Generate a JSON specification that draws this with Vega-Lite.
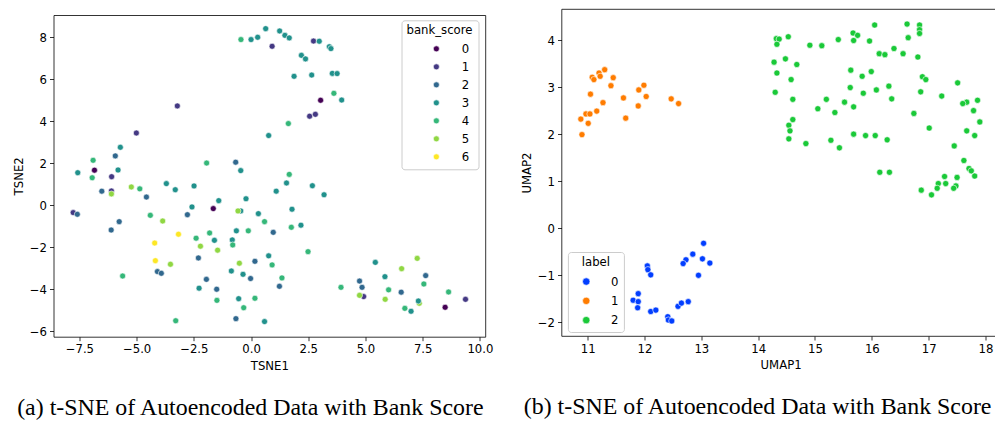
{
  "$schema": "https://vega.github.io/schema/vega-lite/v6.json",
  "padding": {"left": 12.5, "top": 8, "right": 0, "bottom": 0},
  "spacing": 27,
  "background": "white",
  "resolve": {"scale": {"color": "independent"}, "legend": {"color": "independent"}},
  "config": {
    "font": "DejaVu Sans",
    "view": {"stroke": "#000000", "strokeWidth": 0.8},
    "axis": {
      "domain": false, "grid": false, "domainColor": "#000000", "domainWidth": 0.8,
      "tickColor": "#000000", "tickSize": 4, "tickWidth": 0.8,
      "labelFont": "DejaVu Sans", "labelFontSize": 11.7, "labelColor": "#000000", "labelPadding": 3,
      "titleFont": "DejaVu Sans", "titleFontSize": 11.7, "titleFontWeight": "normal", "titleColor": "#000000", "titlePadding": 5
    },
    "legend": {
      "labelFont": "DejaVu Sans", "labelFontSize": 11.7, "labelColor": "#000000",
      "titleFont": "DejaVu Sans", "titleFontSize": 11.7, "titleFontWeight": "normal", "titleColor": "#000000",
      "titleAnchor": "middle", "titleAlign": "center",
      "padding": 5, "strokeColor": "#cccccc", "fillColor": "rgba(255,255,255,0.8)", "cornerRadius": 3,
      "symbolType": "circle", "symbolStrokeColor": "white", "symbolStrokeWidth": 0.6
    },
    "title": {"font": "Liberation Serif", "fontSize": 23.9, "fontWeight": "normal", "color": "#000000", "orient": "bottom", "anchor": "middle"}
  },
  "datasets": {
    "tsne": [
      {"x": -0.44, "y": 7.90, "bank_score": 4}, {"x": 0.0, "y": 7.90, "bank_score": 3}, {"x": 0.29, "y": 8.01, "bank_score": 3},
      {"x": 0.64, "y": 8.42, "bank_score": 3}, {"x": 0.92, "y": 7.58, "bank_score": 1}, {"x": 1.25, "y": 8.31, "bank_score": 3},
      {"x": 1.48, "y": 8.10, "bank_score": 3}, {"x": 1.67, "y": 7.98, "bank_score": 3}, {"x": 2.73, "y": 7.83, "bank_score": 1},
      {"x": 2.98, "y": 7.82, "bank_score": 3}, {"x": 3.42, "y": 7.56, "bank_score": 3}, {"x": 3.49, "y": 7.47, "bank_score": 3},
      {"x": 2.20, "y": 7.15, "bank_score": 3}, {"x": 2.38, "y": 6.98, "bank_score": 3}, {"x": 1.88, "y": 6.15, "bank_score": 3},
      {"x": 2.65, "y": 6.21, "bank_score": 3}, {"x": 3.55, "y": 6.29, "bank_score": 3}, {"x": 3.76, "y": 6.28, "bank_score": 3},
      {"x": 3.62, "y": 5.34, "bank_score": 4}, {"x": 3.96, "y": 5.02, "bank_score": 3}, {"x": 3.04, "y": 5.01, "bank_score": 0},
      {"x": 2.56, "y": 4.25, "bank_score": 1}, {"x": 2.81, "y": 4.34, "bank_score": 1}, {"x": 1.63, "y": 3.90, "bank_score": 4},
      {"x": 0.77, "y": 3.33, "bank_score": 3}, {"x": -0.67, "y": 2.06, "bank_score": 2}, {"x": -0.45, "y": 1.66, "bank_score": 3},
      {"x": 1.67, "y": 1.48, "bank_score": 4}, {"x": 1.55, "y": 1.07, "bank_score": 3}, {"x": 1.10, "y": 0.68, "bank_score": 3},
      {"x": 2.68, "y": 0.94, "bank_score": 3}, {"x": 3.19, "y": 0.51, "bank_score": 3}, {"x": -3.22, "y": 4.74, "bank_score": 1},
      {"x": -5.01, "y": 3.45, "bank_score": 1}, {"x": -5.71, "y": 2.77, "bank_score": 3}, {"x": -5.93, "y": 2.36, "bank_score": 2},
      {"x": -5.81, "y": 1.69, "bank_score": 3}, {"x": -6.09, "y": 1.37, "bank_score": 1}, {"x": -6.90, "y": 2.15, "bank_score": 4},
      {"x": -6.84, "y": 1.68, "bank_score": 0}, {"x": -6.94, "y": 1.32, "bank_score": 4}, {"x": -7.57, "y": 1.56, "bank_score": 3},
      {"x": -1.94, "y": 2.02, "bank_score": 4}, {"x": -6.52, "y": 0.68, "bank_score": 2}, {"x": -6.10, "y": 0.69, "bank_score": 1},
      {"x": -6.10, "y": 0.55, "bank_score": 5}, {"x": -5.23, "y": 0.88, "bank_score": 5}, {"x": -4.86, "y": 0.79, "bank_score": 4},
      {"x": -4.57, "y": 0.40, "bank_score": 2}, {"x": -3.70, "y": 1.04, "bank_score": 3}, {"x": -3.31, "y": 0.75, "bank_score": 3},
      {"x": -2.49, "y": 0.93, "bank_score": 3}, {"x": -2.58, "y": -0.07, "bank_score": 3}, {"x": -2.78, "y": -0.44, "bank_score": 2},
      {"x": -1.41, "y": 0.23, "bank_score": 3}, {"x": -1.65, "y": -0.15, "bank_score": 0}, {"x": -0.22, "y": 0.32, "bank_score": 3},
      {"x": -0.45, "y": -0.26, "bank_score": 3}, {"x": -0.57, "y": -0.26, "bank_score": 5}, {"x": -0.12, "y": -1.21, "bank_score": 4},
      {"x": -7.77, "y": -0.34, "bank_score": 1}, {"x": -7.59, "y": -0.42, "bank_score": 2}, {"x": -5.76, "y": -0.77, "bank_score": 2},
      {"x": -6.11, "y": -1.17, "bank_score": 2}, {"x": -4.40, "y": -0.47, "bank_score": 4}, {"x": -3.86, "y": -0.74, "bank_score": 5},
      {"x": -3.17, "y": -1.37, "bank_score": 6}, {"x": -4.21, "y": -1.79, "bank_score": 6}, {"x": -4.18, "y": -2.63, "bank_score": 6},
      {"x": -3.52, "y": -2.80, "bank_score": 5}, {"x": -4.09, "y": -3.15, "bank_score": 2}, {"x": -3.92, "y": -3.23, "bank_score": 2},
      {"x": -5.61, "y": -3.36, "bank_score": 4}, {"x": -3.29, "y": -5.49, "bank_score": 4}, {"x": -2.40, "y": -1.56, "bank_score": 4},
      {"x": -2.21, "y": -1.94, "bank_score": 5}, {"x": -1.81, "y": -1.31, "bank_score": 4}, {"x": -1.60, "y": -1.66, "bank_score": 3},
      {"x": -1.46, "y": -2.13, "bank_score": 5}, {"x": -2.30, "y": -2.50, "bank_score": 2}, {"x": -1.95, "y": -3.52, "bank_score": 2},
      {"x": -2.27, "y": -3.94, "bank_score": 3}, {"x": -1.50, "y": -3.99, "bank_score": 2}, {"x": -1.49, "y": -4.52, "bank_score": 4},
      {"x": -0.64, "y": -1.21, "bank_score": 3}, {"x": -0.82, "y": -1.64, "bank_score": 3}, {"x": -0.80, "y": -1.88, "bank_score": 4},
      {"x": -0.51, "y": -2.75, "bank_score": 5}, {"x": -0.35, "y": -3.28, "bank_score": 3}, {"x": -0.86, "y": -3.12, "bank_score": 3},
      {"x": -0.54, "y": -4.44, "bank_score": 3}, {"x": -0.32, "y": -4.87, "bank_score": 4}, {"x": -0.66, "y": -5.39, "bank_score": 2},
      {"x": 0.32, "y": -0.39, "bank_score": 3}, {"x": 0.59, "y": -0.77, "bank_score": 4}, {"x": 1.79, "y": -0.18, "bank_score": 3},
      {"x": 1.76, "y": -1.04, "bank_score": 4}, {"x": 2.18, "y": -0.94, "bank_score": 3}, {"x": 0.97, "y": -1.28, "bank_score": 2},
      {"x": 2.49, "y": -2.20, "bank_score": 4}, {"x": 0.17, "y": -2.66, "bank_score": 2}, {"x": 0.77, "y": -2.40, "bank_score": 3},
      {"x": 0.92, "y": -2.83, "bank_score": 4}, {"x": -0.02, "y": -3.48, "bank_score": 2}, {"x": 1.35, "y": -3.45, "bank_score": 4},
      {"x": 1.24, "y": -3.85, "bank_score": 2}, {"x": 0.17, "y": -4.42, "bank_score": 4}, {"x": 0.59, "y": -5.53, "bank_score": 3},
      {"x": 3.93, "y": -3.90, "bank_score": 4}, {"x": 4.74, "y": -3.60, "bank_score": 2}, {"x": 4.85, "y": -3.90, "bank_score": 2},
      {"x": 4.92, "y": -4.34, "bank_score": 1}, {"x": 4.74, "y": -4.28, "bank_score": 5}, {"x": 5.43, "y": -2.71, "bank_score": 3},
      {"x": 5.85, "y": -3.39, "bank_score": 3}, {"x": 6.01, "y": -4.02, "bank_score": 4}, {"x": 5.86, "y": -4.47, "bank_score": 5},
      {"x": 6.58, "y": -3.01, "bank_score": 5}, {"x": 7.26, "y": -2.52, "bank_score": 5}, {"x": 7.63, "y": -3.34, "bank_score": 2},
      {"x": 7.55, "y": -3.74, "bank_score": 4}, {"x": 6.56, "y": -4.13, "bank_score": 2}, {"x": 6.72, "y": -4.90, "bank_score": 4},
      {"x": 6.99, "y": -5.04, "bank_score": 3}, {"x": 7.35, "y": -4.66, "bank_score": 5}, {"x": 7.31, "y": -4.55, "bank_score": 3},
      {"x": 8.48, "y": -4.85, "bank_score": 0}, {"x": 8.63, "y": -4.12, "bank_score": 4}, {"x": 9.37, "y": -4.47, "bank_score": 1}
    ],
    "umap": [
      {"x": 10.90, "y": 1.99, "label": 1}, {"x": 10.88, "y": 2.32, "label": 1}, {"x": 10.97, "y": 2.43, "label": 1},
      {"x": 11.04, "y": 2.43, "label": 1}, {"x": 11.01, "y": 2.23, "label": 1}, {"x": 11.16, "y": 2.49, "label": 1},
      {"x": 11.05, "y": 2.85, "label": 1}, {"x": 11.08, "y": 3.21, "label": 1}, {"x": 11.11, "y": 3.16, "label": 1},
      {"x": 11.20, "y": 3.30, "label": 1}, {"x": 11.22, "y": 3.23, "label": 1}, {"x": 11.30, "y": 3.37, "label": 1},
      {"x": 11.45, "y": 3.20, "label": 1}, {"x": 11.41, "y": 3.03, "label": 1}, {"x": 11.27, "y": 2.67, "label": 1},
      {"x": 11.63, "y": 2.77, "label": 1}, {"x": 11.67, "y": 2.34, "label": 1}, {"x": 11.90, "y": 2.94, "label": 1},
      {"x": 11.99, "y": 3.04, "label": 1}, {"x": 12.03, "y": 2.80, "label": 1}, {"x": 11.89, "y": 2.60, "label": 1},
      {"x": 12.47, "y": 2.75, "label": 1}, {"x": 12.60, "y": 2.65, "label": 1},
      {"x": 13.04, "y": -0.32, "label": 0}, {"x": 13.02, "y": -0.65, "label": 0}, {"x": 13.15, "y": -0.74, "label": 0},
      {"x": 12.85, "y": -0.55, "label": 0}, {"x": 12.73, "y": -0.67, "label": 0}, {"x": 12.68, "y": -0.75, "label": 0},
      {"x": 12.95, "y": -1.00, "label": 0}, {"x": 12.05, "y": -0.80, "label": 0}, {"x": 12.06, "y": -0.88, "label": 0},
      {"x": 12.11, "y": -0.99, "label": 0}, {"x": 11.89, "y": -1.39, "label": 0}, {"x": 11.80, "y": -1.53, "label": 0},
      {"x": 11.89, "y": -1.56, "label": 0}, {"x": 11.88, "y": -1.69, "label": 0}, {"x": 12.11, "y": -1.77, "label": 0},
      {"x": 12.20, "y": -1.74, "label": 0}, {"x": 12.41, "y": -1.88, "label": 0}, {"x": 12.42, "y": -1.95, "label": 0},
      {"x": 12.48, "y": -1.97, "label": 0}, {"x": 12.59, "y": -1.66, "label": 0}, {"x": 12.65, "y": -1.59, "label": 0},
      {"x": 12.77, "y": -1.56, "label": 0},
      {"x": 14.32, "y": 4.03, "label": 2}, {"x": 14.37, "y": 4.02, "label": 2}, {"x": 14.33, "y": 3.91, "label": 2},
      {"x": 14.53, "y": 4.07, "label": 2}, {"x": 14.28, "y": 3.53, "label": 2}, {"x": 14.48, "y": 3.60, "label": 2},
      {"x": 14.68, "y": 3.48, "label": 2}, {"x": 14.33, "y": 3.30, "label": 2}, {"x": 14.58, "y": 3.16, "label": 2},
      {"x": 14.30, "y": 2.89, "label": 2}, {"x": 14.61, "y": 2.74, "label": 2}, {"x": 14.61, "y": 2.31, "label": 2},
      {"x": 14.54, "y": 2.19, "label": 2}, {"x": 14.56, "y": 2.07, "label": 2}, {"x": 14.54, "y": 1.90, "label": 2},
      {"x": 14.84, "y": 1.80, "label": 2}, {"x": 14.91, "y": 3.89, "label": 2}, {"x": 15.12, "y": 3.88, "label": 2},
      {"x": 15.41, "y": 4.01, "label": 2}, {"x": 15.67, "y": 4.15, "label": 2}, {"x": 15.75, "y": 4.10, "label": 2},
      {"x": 15.68, "y": 3.99, "label": 2}, {"x": 16.05, "y": 4.32, "label": 2}, {"x": 15.96, "y": 3.98, "label": 2},
      {"x": 16.62, "y": 4.34, "label": 2}, {"x": 16.84, "y": 4.32, "label": 2}, {"x": 16.84, "y": 4.22, "label": 2},
      {"x": 16.84, "y": 4.14, "label": 2}, {"x": 16.64, "y": 4.05, "label": 2}, {"x": 16.13, "y": 3.71, "label": 2},
      {"x": 16.23, "y": 3.69, "label": 2}, {"x": 16.39, "y": 3.82, "label": 2}, {"x": 16.55, "y": 3.71, "label": 2},
      {"x": 16.81, "y": 3.64, "label": 2}, {"x": 15.63, "y": 3.36, "label": 2}, {"x": 15.83, "y": 3.23, "label": 2},
      {"x": 15.99, "y": 3.33, "label": 2}, {"x": 15.62, "y": 2.99, "label": 2}, {"x": 15.85, "y": 2.87, "label": 2},
      {"x": 16.08, "y": 2.94, "label": 2}, {"x": 16.30, "y": 3.02, "label": 2}, {"x": 16.35, "y": 2.75, "label": 2},
      {"x": 15.20, "y": 2.74, "label": 2}, {"x": 15.05, "y": 2.54, "label": 2}, {"x": 15.35, "y": 2.46, "label": 2},
      {"x": 15.52, "y": 2.68, "label": 2}, {"x": 15.68, "y": 2.58, "label": 2}, {"x": 16.89, "y": 3.22, "label": 2},
      {"x": 16.95, "y": 3.16, "label": 2}, {"x": 16.86, "y": 2.90, "label": 2}, {"x": 16.74, "y": 2.44, "label": 2},
      {"x": 17.23, "y": 2.81, "label": 2}, {"x": 17.51, "y": 3.09, "label": 2}, {"x": 17.01, "y": 2.13, "label": 2},
      {"x": 17.67, "y": 2.68, "label": 2}, {"x": 17.60, "y": 2.65, "label": 2}, {"x": 17.86, "y": 2.72, "label": 2},
      {"x": 17.79, "y": 2.50, "label": 2}, {"x": 17.90, "y": 2.26, "label": 2}, {"x": 17.67, "y": 2.07, "label": 2},
      {"x": 17.81, "y": 1.97, "label": 2}, {"x": 17.45, "y": 1.75, "label": 2}, {"x": 17.62, "y": 1.44, "label": 2},
      {"x": 17.71, "y": 1.27, "label": 2}, {"x": 17.75, "y": 1.22, "label": 2}, {"x": 17.81, "y": 1.11, "label": 2},
      {"x": 15.68, "y": 2.00, "label": 2}, {"x": 15.89, "y": 1.97, "label": 2}, {"x": 16.06, "y": 1.97, "label": 2},
      {"x": 16.27, "y": 1.88, "label": 2}, {"x": 15.28, "y": 1.87, "label": 2}, {"x": 15.43, "y": 1.71, "label": 2},
      {"x": 16.14, "y": 1.19, "label": 2}, {"x": 16.31, "y": 1.19, "label": 2}, {"x": 17.28, "y": 1.10, "label": 2},
      {"x": 17.50, "y": 1.08, "label": 2}, {"x": 17.17, "y": 0.95, "label": 2}, {"x": 17.30, "y": 0.95, "label": 2},
      {"x": 17.48, "y": 0.90, "label": 2}, {"x": 17.44, "y": 0.85, "label": 2}, {"x": 17.15, "y": 0.85, "label": 2},
      {"x": 16.87, "y": 0.81, "label": 2}, {"x": 17.05, "y": 0.71, "label": 2}
    ]
  },
  "hconcat": [
    {
      "width": 431.7,
      "height": 327.7,
      "view": {"stroke": null},
      "data": {"name": "tsne"},
      "title": {"text": "(a) t-SNE of Autoencoded Data with Bank Score", "dx": -19, "offset": 24},
      "layer": [
        {
          "mark": {"type": "point", "filled": true, "shape": "circle", "size": 36, "opacity": 1, "stroke": "white", "strokeWidth": 0.6},
          "encoding": {
            "x": {"field": "x", "type": "quantitative", "scale": {"domain": [-8.63, 10.23], "nice": false, "zero": false},
                  "axis": {"title": "TSNE1", "values": [-7.5, -5, -2.5, 0, 2.5, 5, 7.5, 10], "format": ".1f", "domain": true}},
            "y": {"field": "y", "type": "quantitative", "scale": {"domain": [-6.25, 9.07], "nice": false, "zero": false, "range": [327.7, 6]},
                  "axis": {"title": "TSNE2", "values": [-6, -4, -2, 0, 2, 4, 6, 8], "format": "d", "domain": true}},
            "color": {"field": "bank_score", "type": "nominal",
                      "scale": {"domain": [0, 1, 2, 3, 4, 5, 6], "range": ["#440154", "#443983", "#31688e", "#21918c", "#35b779", "#90d743", "#fde725"]},
                      "legend": {"title": "bank_score", "orient": "none", "legendX": 348, "legendY": 11.3,
                                 "symbolSize": 36, "symbolOffset": 21, "labelOffset": 19.5, "rowPadding": 5, "titlePadding": 6}}
          }
        },
        {
          "mark": {"type": "rule", "opacity": 0},
          "encoding": {
            "x": {"datum": 0, "type": "quantitative", "scale": {"domain": [-8.63, 10.23], "nice": false, "zero": false},
                  "axis": {"orient": "top", "offset": -6, "labels": false, "ticks": false, "domain": true, "title": null, "minExtent": 0, "maxExtent": 0}},
            "y": {"datum": 0, "type": "quantitative", "scale": {"domain": [-6.25, 9.07], "nice": false, "zero": false, "range": [327.7, 6]},
                  "axis": {"orient": "right", "labels": false, "ticks": false, "domain": true, "title": null, "minExtent": 0, "maxExtent": 0}}
          }
        }
      ],
      "resolve": {"axis": {"x": "independent", "y": "independent"}}
    },
    {
      "width": 438.2,
      "height": 327,
      "data": {"name": "umap"},
      "title": {"text": "(b) t-SNE of Autoencoded Data with Bank Score", "dx": -23, "offset": 24},
      "mark": {"type": "point", "filled": true, "shape": "circle", "size": 38, "opacity": 1, "stroke": "white", "strokeWidth": 0.6},
      "encoding": {
        "x": {"field": "x", "type": "quantitative", "scale": {"domain": [10.54, 18.25], "nice": false, "zero": false},
              "axis": {"title": "UMAP1", "values": [11, 12, 13, 14, 15, 16, 17, 18], "format": "d"}},
        "y": {"field": "y", "type": "quantitative", "scale": {"domain": [-2.29, 4.66], "nice": false, "zero": false},
              "axis": {"title": "UMAP2", "values": [-2, -1, 0, 1, 2, 3, 4], "format": "d"}},
        "color": {"field": "label", "type": "nominal",
                  "scale": {"domain": [0, 1, 2], "range": ["#023eff", "#ff7c00", "#1ac938"]},
                  "legend": {"title": "label", "orient": "none", "legendX": 6.4, "legendY": 243,
                             "symbolSize": 55, "symbolOffset": 7.5, "labelOffset": 19, "rowPadding": 6.3, "titlePadding": 7}}
      }
    }
  ]
}
